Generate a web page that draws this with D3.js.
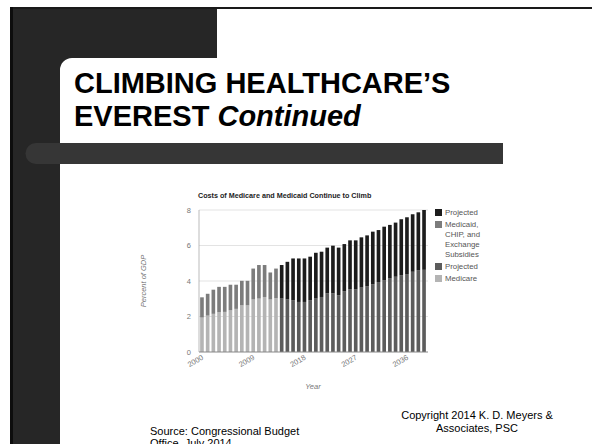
<!DOCTYPE html>
<html><head><meta charset="utf-8">
<script src="https://cdn.jsdelivr.net/npm/d3@7"></script>
<style>html,body{margin:0;padding:0;background:#fff;overflow:hidden}svg{display:block;font-family:"Liberation Sans",Arial,sans-serif}</style>
</head><body>
<script>
const years = [2000,2001,2002,2003,2004,2005,2006,2007,2008,2009,2010,2011,2012,2013,
  2014,2015,2016,2017,2018,2019,2020,2021,2022,2023,2024,2025,2026,2027,2028,2029,
  2030,2031,2032,2033,2034,2035,2036,2037,2038,2039];
const histYears = [2000,2001,2002,2003,2004,2005,2006,2007,2008,2009,2010,2011,2012,2013];
const medicareHist = [1.94,2.05,2.15,2.24,2.26,2.35,2.43,2.63,2.63,2.96,3.01,3.10,2.96,3.03];
const medicaidHist = [1.14,1.23,1.36,1.43,1.41,1.44,1.36,1.38,1.38,1.74,1.89,1.80,1.52,1.67];
const projYears = [2014,2015,2016,2017,2018,2019,2020,2021,2022,2023,2024,2025,2026,2027,2028,2029,
  2030,2031,2032,2033,2034,2035,2036,2037,2038,2039];
const medicareProj = [3.01,2.96,2.92,2.82,2.82,2.92,3.01,3.10,3.30,3.30,3.20,3.43,3.54,3.54,3.63,3.71,
  3.82,3.94,4.05,4.14,4.24,4.33,4.39,4.52,4.61,4.63];
const medicaidProj = [1.89,2.12,2.35,2.45,2.45,2.45,2.58,2.55,2.58,2.69,2.68,2.65,2.75,2.75,2.83,2.86,
  2.96,2.93,3.01,3.02,3.05,3.15,3.20,3.24,3.26,3.37];
const yTicks = [0,2,4,6,8];
const xTickLabels = [2000,2009,2018,2027,2036];
const seriesKeys = ["medicare","medicaid","projMedicare","projMedicaid"];
const seriesColors = {medicare:"#b4b4b4",medicaid:"#7c7c7c",projMedicare:"#5c5c5c",projMedicaid:"#1c1c1c"};
const legendItems = [
  {key:"projMedicaid", lines:["Projected"]},
  {key:"medicaid", lines:["Medicaid,","CHIP, and","Exchange","Subsidies"]},
  {key:"projMedicare", lines:["Projected"]},
  {key:"medicare", lines:["Medicare"]}
];

// build table
const table = years.map(y => {
  const hi = histYears.indexOf(y), pi = projYears.indexOf(y);
  return {year:y,
    medicare: hi>=0?medicareHist[hi]:0,
    medicaid: hi>=0?medicaidHist[hi]:0,
    projMedicare: pi>=0?medicareProj[pi]:0,
    projMedicaid: pi>=0?medicaidProj[pi]:0};
});

const W=592,H=444;
const svg = d3.select("body").append("svg").attr("width",W).attr("height",H);

// slide decoration
svg.append("rect").attr("x",10).attr("y",7).attr("width",W-10).attr("height",2).attr("fill","#1a1a1a");
svg.append("rect").attr("x",10).attr("y",7).attr("width",3).attr("height",H).attr("fill","#0d0d0d");
const pl=13, pt=9, pr=217, pb=58, lx=60, r=12;
svg.append("path").attr("fill","#262626")
  .attr("d",`M${pl},${pt}H${pr}V${pb}H${lx+r}A${r},${r} 0 0 0 ${lx},${pb+r}V${H}H${pl}Z`);
// horizontal bar
svg.append("path").attr("fill","#363636")
  .attr("d",`M36,143H503V164H36A10.5,10.5 0 0 1 36,143Z`);

// title
const t = svg.append("text").attr("font-weight","bold").attr("font-size",29).attr("fill","#000");
t.append("tspan").attr("x",74).attr("y",93).text("CLIMBING HEALTHCARE\u2019S");
const t2 = svg.append("text").attr("x",74).attr("y",126).attr("font-weight","bold").attr("font-size",29).attr("fill","#000");
t2.append("tspan").text("EVEREST ");
t2.append("tspan").attr("font-style","italic").text("Continued");

// chart
const x = d3.scaleBand().domain(years).range([199,427]).paddingInner(0.36).paddingOuter(0.2);
const y = d3.scaleLinear().domain([0,8]).range([352,210]);

const g = svg.append("g");
g.selectAll("line.grid").data(yTicks.filter(d=>d>0)).join("line")
  .attr("x1",199).attr("x2",428).attr("y1",d=>y(d)).attr("y2",d=>y(d))
  .attr("stroke","#dcdcdc").attr("stroke-width",0.8);

const stack = d3.stack().keys(seriesKeys)(table);
g.selectAll("g.s").data(stack).join("g").attr("fill",d=>seriesColors[d.key])
  .selectAll("rect").data(d=>d.filter(p=>p[1]-p[0]>0)).join("rect")
  .attr("x",d=>x(d.data.year)).attr("width",x.bandwidth())
  .attr("y",d=>y(d[1])).attr("height",d=>y(d[0])-y(d[1]));

// axes lines
g.append("line").attr("x1",199).attr("x2",199).attr("y1",210).attr("y2",352).attr("stroke","#aaa").attr("stroke-width",0.8);
g.append("line").attr("x1",199).attr("x2",428).attr("y1",352).attr("y2",352).attr("stroke","#888").attr("stroke-width",1);

// y tick labels
g.selectAll("text.yt").data(yTicks).join("text")
  .attr("x",191).attr("y",d=>y(d)+2.5).attr("text-anchor","end")
  .attr("font-size",7.5).attr("fill","#777").text(d=>d);
// x tick labels
g.selectAll("text.xt").data(xTickLabels).join("text")
  .attr("transform",d=>`translate(${x(d)+x.bandwidth()/2+2},${359}) rotate(-30)`)
  .attr("text-anchor","end").attr("font-size",7.5).attr("fill","#777").text(d=>d);

// axis titles
svg.append("text").attr("transform","translate(146,281) rotate(-90)").attr("text-anchor","middle")
  .attr("font-size",7.5).attr("font-style","italic").attr("fill","#777").text("Percent of GDP");
svg.append("text").attr("x",313).attr("y",389).attr("text-anchor","middle")
  .attr("font-size",7.5).attr("font-style","italic").attr("fill","#777").text("Year");

// chart title
svg.append("text").attr("x",198).attr("y",198).attr("font-size",7.2).attr("font-weight","bold")
  .attr("fill","#222").text("Costs of Medicare and Medicaid Continue to Climb");

// legend
let ly = 209;
legendItems.forEach(it => {
  svg.append("rect").attr("x",435).attr("y",ly).attr("width",7).attr("height",7).attr("fill",seriesColors[it.key]);
  it.lines.forEach((ln,i) => {
    svg.append("text").attr("x",445).attr("y",ly+6+i*10).attr("font-size",7.8).attr("fill","#555").text(ln);
  });
  ly += it.lines.length*10 + 2;
});

// footer
svg.append("text").attr("x",150).attr("y",435).attr("font-size",11).attr("fill","#000").text("Source: Congressional Budget");
svg.append("text").attr("x",150).attr("y",447).attr("font-size",11).attr("fill","#000").text("Office, July 2014");
svg.append("text").attr("x",477).attr("y",419).attr("text-anchor","middle").attr("font-size",11).attr("fill","#000").text("Copyright 2014 K. D. Meyers &");
svg.append("text").attr("x",477).attr("y",432).attr("text-anchor","middle").attr("font-size",11).attr("fill","#000").text("Associates, PSC");
</script>
</body></html>
